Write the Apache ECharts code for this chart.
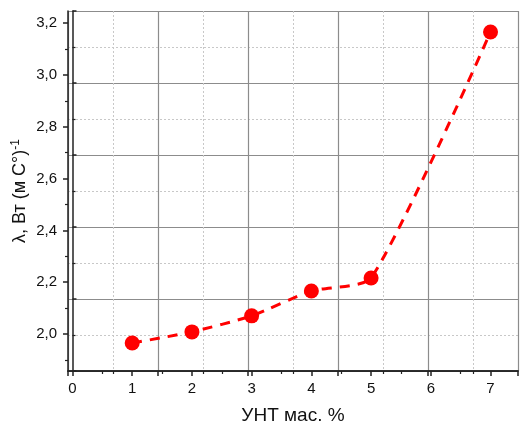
<!DOCTYPE html>
<html>
<head>
<meta charset="utf-8">
<script src="https://cdn.jsdelivr.net/npm/echarts@6/dist/echarts.min.js"></script>
<style>
  html, body { margin: 0; padding: 0; background: #fff; }
  #chart { width: 520px; height: 425px; }
</style>
</head>
<body>
<div id="chart"></div>
<script>
// данные с графика
const xValues = [1, 2, 3, 4, 5, 7]
const lambdaValues = [1.965, 2.008, 2.070, 2.166, 2.216, 3.166]
const xTicks = [0, 1, 2, 3, 4, 5, 6, 7]
const xMinorTicks = [0.5, 1.5, 2.5, 3.5, 4.5, 5.5, 6.5]
const yTicks = [2.0, 2.2, 2.4, 2.6, 2.8, 3.0, 3.2]
const yMinorTicks = [1.9, 2.1, 2.3, 2.5, 2.7, 2.9, 3.1]

const font = 'Liberation Sans, Arial, sans-serif'
const gridSolid = '#8c8c8c'
const gridDot = '#c8c8c8'
const axisColor = '#222'

const xRange = { min: -0.075, max: 7.46 }
const yRange = { min: 1.857, max: 3.247 }

let myChart = echarts.init(document.getElementById('chart'), null, { width: 520, height: 425 })

let option = {
  animation: false,
  grid: { left: 68, right: 2, top: 11, bottom: 54, containLabel: false, outerBoundsMode: 'none' },
  xAxis: [
    {
      type: 'value',
      min: xRange.min,
      max: xRange.max,
      name: 'УНТ мас. %',
      nameLocation: 'middle',
      nameGap: 35,
      nameTextStyle: { fontFamily: font, fontSize: 19, color: '#111' },
      axisLine: { show: true, onZero: false, lineStyle: { color: axisColor, width: 1.5 } },
      axisTick: { show: true, inside: false, length: 5, customValues: xTicks, lineStyle: { color: axisColor, width: 1.5 } },
      axisLabel: {
        fontFamily: font, fontSize: 15, color: '#111', margin: 10,
        customValues: xTicks,
        formatter: v => String(Math.round(v))
      },
      splitLine: { show: false }
    },
    {
      // сетка поверх области графика
      type: 'value',
      position: 'top',
      min: 0,
      max: 10,
      interval: 2,
      axisLine: { show: true, lineStyle: { color: axisColor, width: 1.5 } },
      axisTick: { show: true, inside: true, length: 5, lineStyle: { color: axisColor, width: 1.5 } },
      minorTick: { show: true, splitNumber: 2, length: 3, lineStyle: { color: axisColor, width: 1.2 } },
      axisLabel: { show: false },
      splitLine: { show: true, lineStyle: { color: gridSolid, width: 1.2, type: 'solid' } },
      minorSplitLine: { show: true, lineStyle: { color: gridDot, width: 1, type: [2, 2] } }
    },
    {
      // малые деления оси X
      type: 'value',
      position: 'bottom',
      min: xRange.min,
      max: xRange.max,
      axisLine: { show: false },
      axisTick: { show: true, inside: false, length: 3, customValues: xMinorTicks, lineStyle: { color: axisColor, width: 1.2 } },
      axisLabel: { show: false },
      splitLine: { show: false }
    }
  ],
  yAxis: [
    {
      type: 'value',
      min: yRange.min,
      max: yRange.max,
      name: '{n|λ, Вт (м С°)}{s|-1}',
      nameLocation: 'middle',
      nameGap: 37,
      nameMoveOverlap: false,
      nameRotate: 90,
      nameTextStyle: {
        fontFamily: font, fontSize: 18, color: '#111',
        rich: {
          n: { fontFamily: font, fontSize: 18, color: '#111' },
          s: { fontFamily: font, fontSize: 12, color: '#111', verticalAlign: 'top', padding: [0, 0, 9, 0] }
        }
      },
      axisLine: { show: true, onZero: false, lineStyle: { color: axisColor, width: 1.5 } },
      axisTick: { show: true, inside: false, length: 5, customValues: yTicks, lineStyle: { color: axisColor, width: 1.5 } },
      axisLabel: {
        fontFamily: font, fontSize: 15, color: '#111', margin: 11,
        customValues: yTicks,
        formatter: v => v.toFixed(1).replace('.', ',')
      },
      splitLine: { show: false }
    },
    {
      type: 'value',
      position: 'right',
      min: 0,
      max: 10,
      interval: 2,
      axisLine: { show: true, lineStyle: { color: axisColor, width: 1.5 } },
      axisTick: { show: true, inside: false, length: 4, lineStyle: { color: axisColor, width: 1.5 } },
      minorTick: { show: true, splitNumber: 2, length: 3, lineStyle: { color: axisColor, width: 1.2 } },
      axisLabel: { show: false },
      splitLine: { show: true, lineStyle: { color: gridSolid, width: 1.2, type: 'solid' } },
      minorSplitLine: { show: true, lineStyle: { color: gridDot, width: 1, type: [2, 2] } }
    },
    {
      // малые деления оси Y
      type: 'value',
      position: 'left',
      min: yRange.min,
      max: yRange.max,
      axisLine: { show: false },
      axisTick: { show: true, inside: false, length: 3, customValues: yMinorTicks, lineStyle: { color: axisColor, width: 1.2 } },
      axisLabel: { show: false },
      splitLine: { show: false }
    }
  ],
  series: [
    {
      type: 'line',
      xAxisIndex: 0,
      yAxisIndex: 0,
      data: xValues.map((x, i) => [x, lambdaValues[i]]),
      smooth: 0.2,
      symbol: 'circle',
      symbolSize: 15,
      itemStyle: { color: '#ff0000' },
      lineStyle: { color: '#ff0000', width: 3, type: [10, 8] },
      z: 5
    }
  ]
}
myChart.setOption(option)
</script>
</body>
</html>
